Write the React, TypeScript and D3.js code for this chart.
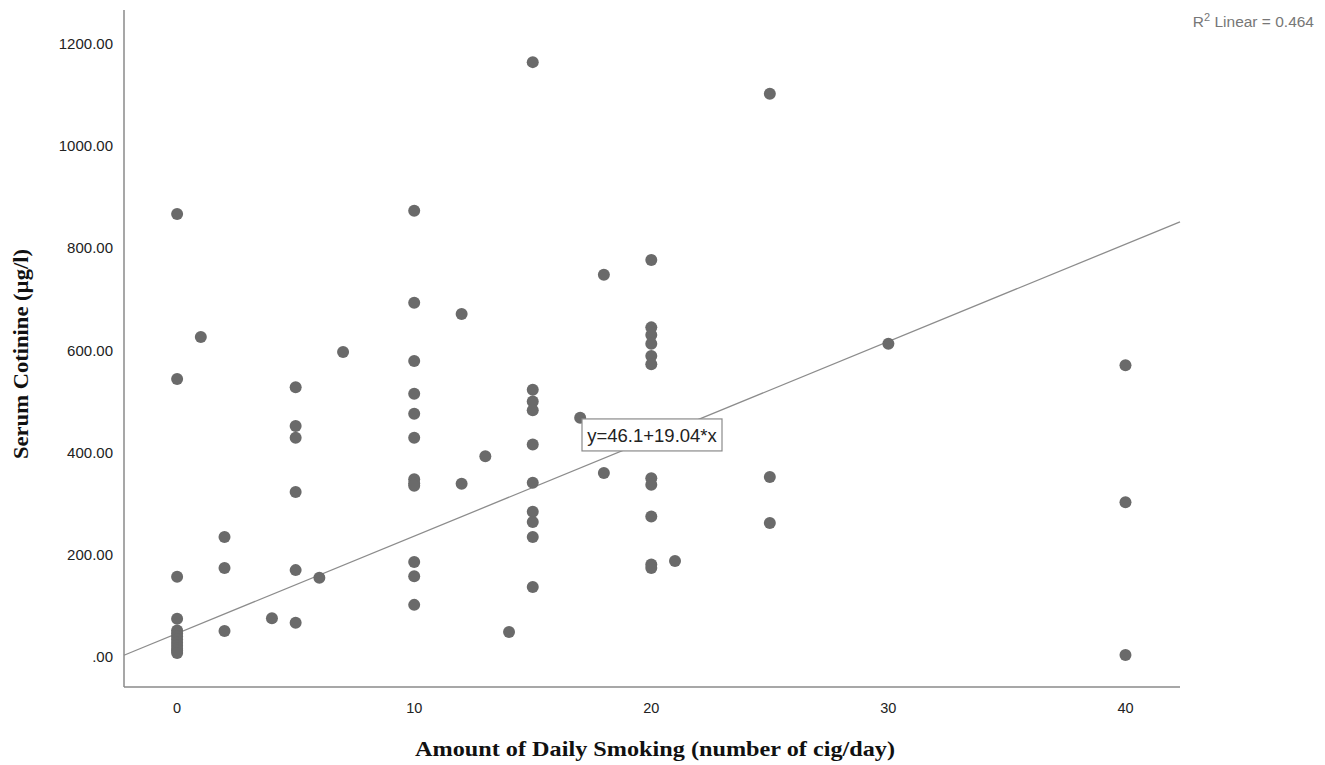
import React from "react";
import * as d3 from "d3";

const smokingX: number[] = [
  0, 0, 0, 0, 0, 0, 0, 0, 0, 0, 0, 0, 0,
  1, 2, 2, 2, 4,
  5, 5, 5, 5, 5, 5,
  6, 7,
  10, 10, 10, 10, 10, 10, 10, 10, 10, 10, 10, 10,
  12, 12, 13, 14,
  15, 15, 15, 15, 15, 15, 15, 15, 15, 15,
  17, 18, 18,
  20, 20, 20, 20, 20, 20, 20, 20, 20, 20, 20,
  21, 25, 25, 25, 30, 40, 40, 40,
];
const cotinineY: number[] = [
  867, 544, 157, 75, 52, 46, 40, 34, 28, 22, 16, 12, 8,
  626, 235, 174, 51, 76,
  528, 452, 429, 323, 170, 67,
  155, 597,
  873, 693, 579, 515, 476, 429, 348, 340, 335, 186, 158, 102,
  671, 339, 393, 49,
  1164, 523, 500, 483, 416, 341, 284, 264, 235, 137,
  468, 748, 360,
  777, 645, 630, 613, 589, 573, 350, 337, 275, 181, 174,
  188, 1102, 352, 262, 613, 571, 303, 4,
];

const xTicks: number[] = [0, 10, 20, 30, 40];
const yTicks: number[] = [0, 200, 400, 600, 800, 1000, 1200];
const intercept = 46.1;
const slope = 19.04;
const rSquared = 0.464;

const W = 1325;
const H = 765;

export default function App() {
  const x = d3.scaleLinear().domain([-2.24, 42.3]).range([124, 1180]);
  const y = d3.scaleLinear().domain([-58.7, 1266]).range([687, 10]);
  const [x0, x1] = x.domain();
  const [y0, y1] = y.domain();
  const line = d3
    .line<number>()
    .x((d) => x(d))
    .y((d) => y(intercept + slope * d));
  const fmtY = (v: number) => (v === 0 ? ".00" : v.toFixed(2));

  const labelCy = y(intercept + slope * 20.4);
  return (
    <svg
      width={W}
      height={H}
      style={{ position: "absolute", left: 0, top: 0, background: "#fff" }}
    >
      <rect x={0} y={0} width={W} height={H} fill="#fff" />
      {/* axes */}
      <line x1={x(x0)} y1={y(y0)} x2={x(x1)} y2={y(y0)} stroke="#8a8a8a" strokeWidth={1.5} />
      <line x1={x(x0)} y1={y(y0)} x2={x(x0)} y2={y(y1)} stroke="#8a8a8a" strokeWidth={1.5} />
      {/* y tick labels */}
      {yTicks.map((t) => (
        <text
          key={t}
          x={113}
          y={y(t)}
          dy="0.35em"
          textAnchor="end"
          fontFamily="Liberation Sans, Arial, sans-serif"
          fontSize={15}
          fill="#222"
        >
          {fmtY(t)}
        </text>
      ))}
      {/* x tick labels */}
      {xTicks.map((t) => (
        <text
          key={t}
          x={x(t)}
          y={713}
          textAnchor="middle"
          fontFamily="Liberation Sans, Arial, sans-serif"
          fontSize={14.5}
          fill="#222"
        >
          {t}
        </text>
      ))}
      {/* fit line */}
      <path d={line([x0, x1]) || ""} fill="none" stroke="#8c8c8c" strokeWidth={1.3} />
      {/* points */}
      {smokingX.map((v, i) => (
        <circle key={i} cx={x(v)} cy={y(cotinineY[i])} r={6} fill="#6a6a6a" />
      ))}
      {/* equation label */}
      <rect x={582} y={labelCy - 16} width={140} height={32} fill="#fff" stroke="#8a8a8a" strokeWidth={1.2} />
      <text
        x={652}
        y={labelCy + 1}
        dy="0.35em"
        textAnchor="middle"
        fontFamily="Liberation Sans, Arial, sans-serif"
        fontSize={18.5}
        fill="#222"
      >
        {`y=${intercept}+${slope}*x`}
      </text>
      {/* R2 */}
      <text x={1314} y={27} textAnchor="end" fontFamily="Liberation Sans, Arial, sans-serif" fontSize={15.5} fill="#777">
        R<tspan dy={-6} fontSize={11}>2</tspan>
        <tspan dy={6}>{` Linear = ${rSquared.toFixed(3)}`}</tspan>
      </text>
      {/* axis titles */}
      <text
        x={655}
        y={756}
        textAnchor="middle"
        fontFamily="Liberation Serif, Times New Roman, serif"
        fontWeight="bold"
        fontSize={22}
        textLength={480}
        lengthAdjust="spacingAndGlyphs"
        fill="#111"
      >
        Amount of Daily Smoking (number of cig/day)
      </text>
      <text
        transform={`translate(28,${354}) rotate(-90)`}
        textAnchor="middle"
        fontFamily="Liberation Serif, Times New Roman, serif"
        fontWeight="bold"
        fontSize={22}
        textLength={210}
        lengthAdjust="spacingAndGlyphs"
        fill="#111"
      >
        Serum Cotinine (µg/l)
      </text>
    </svg>
  );
}
